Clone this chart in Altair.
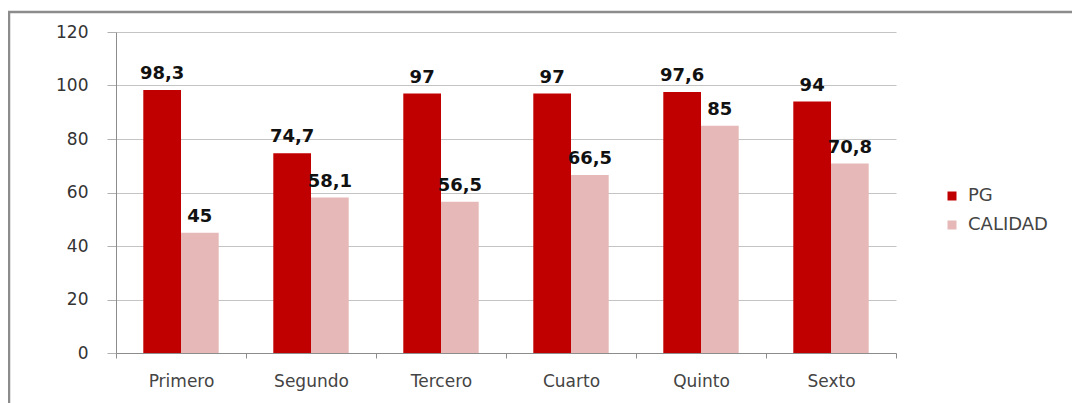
import altair as alt
import pandas as pd

categories = ["Primero", "Segundo", "Tercero", "Cuarto", "Quinto", "Sexto"]
pg = [98.3, 74.7, 97, 97, 97.6, 94]
calidad = [45, 58.1, 56.5, 66.5, 85, 70.8]
series = ["PG", "CALIDAD"]
colors = ["#C00000", "#E6B9B8"]
y_ticks = [0, 20, 40, 60, 80, 100, 120]

rows = []
for c, a, b in zip(categories, pg, calidad):
    rows.append({"cat": c, "serie": "PG", "valor": a})
    rows.append({"cat": c, "serie": "CALIDAD", "valor": b})
df = pd.DataFrame(rows)
df["etiqueta"] = df["valor"].map(lambda v: (f"{v:g}").replace(".", ","))

FONT = "DejaVu Sans"

x_enc = alt.X(
    "cat:N",
    sort=categories,
    scale=alt.Scale(paddingInner=0, paddingOuter=0),
    axis=alt.Axis(
        title=None,
        labelAngle=0,
        labelFont=FONT,
        labelFontSize=17,
        labelColor="#444444",
        labelPadding=15,
        tickBand="extent",
        tickSize=5,
        tickColor="#8c8c8c",
        domainColor="#8c8c8c",
        grid=False,
    ),
)
xo_enc = alt.XOffset("serie:N", sort=series, scale=alt.Scale(paddingInner=0, paddingOuter=0.724))

y_enc = alt.Y(
    "valor:Q",
    scale=alt.Scale(domain=[0, 120], nice=False),
    axis=alt.Axis(
        title=None,
        values=y_ticks,
        labelFont=FONT,
        labelFontSize=17,
        labelColor="#333333",
        labelPadding=19,
        tickSize=9,
        tickColor="#b0b0b0",
        domainColor="#8c8c8c",
        gridColor="#c4c4c4",
        grid=True,
    ),
)

base = alt.Chart(df)

bars = base.mark_bar(stroke=None).encode(
    x=x_enc,
    xOffset=xo_enc,
    y=y_enc,
    color=alt.Color(
        "serie:N",
        sort=series,
        scale=alt.Scale(domain=series, range=colors),
        legend=alt.Legend(
            title=None,
            orient="none",
            legendX=827,
            legendY=155,
            symbolType="square",
            symbolSize=81,
            symbolStrokeWidth=0,
            labelFont=FONT,
            labelFontSize=18,
            labelColor="#444444",
            labelOffset=7,
            rowPadding=11,
        ),
    ),
)

labels = base.mark_text(
    font=FONT, fontSize=18, fontWeight="bold", color="#111111", baseline="alphabetic", dy=-11
).encode(
    x=alt.X("cat:N", sort=categories),
    xOffset=xo_enc,
    y="valor:Q",
    text="etiqueta:N",
)

frame = alt.Chart(pd.DataFrame({"f": [0]})).mark_rect(
    fill=None, stroke="#8c8c8c", strokeWidth=2.5
).encode(
    x=alt.value(-107), x2=alt.value(1100), y=alt.value(-20), y2=alt.value(500)
)

chart = alt.layer(frame, bars, labels).properties(
    width=780,
    height=321,
    autosize=alt.AutoSizeParams(type="none"),
    padding={"left": 108, "top": 24, "right": 176, "bottom": 50},
    background="white",
).configure_view(stroke=None)

chart.save("out.html", embed_options={"renderer": "svg", "actions": False})
